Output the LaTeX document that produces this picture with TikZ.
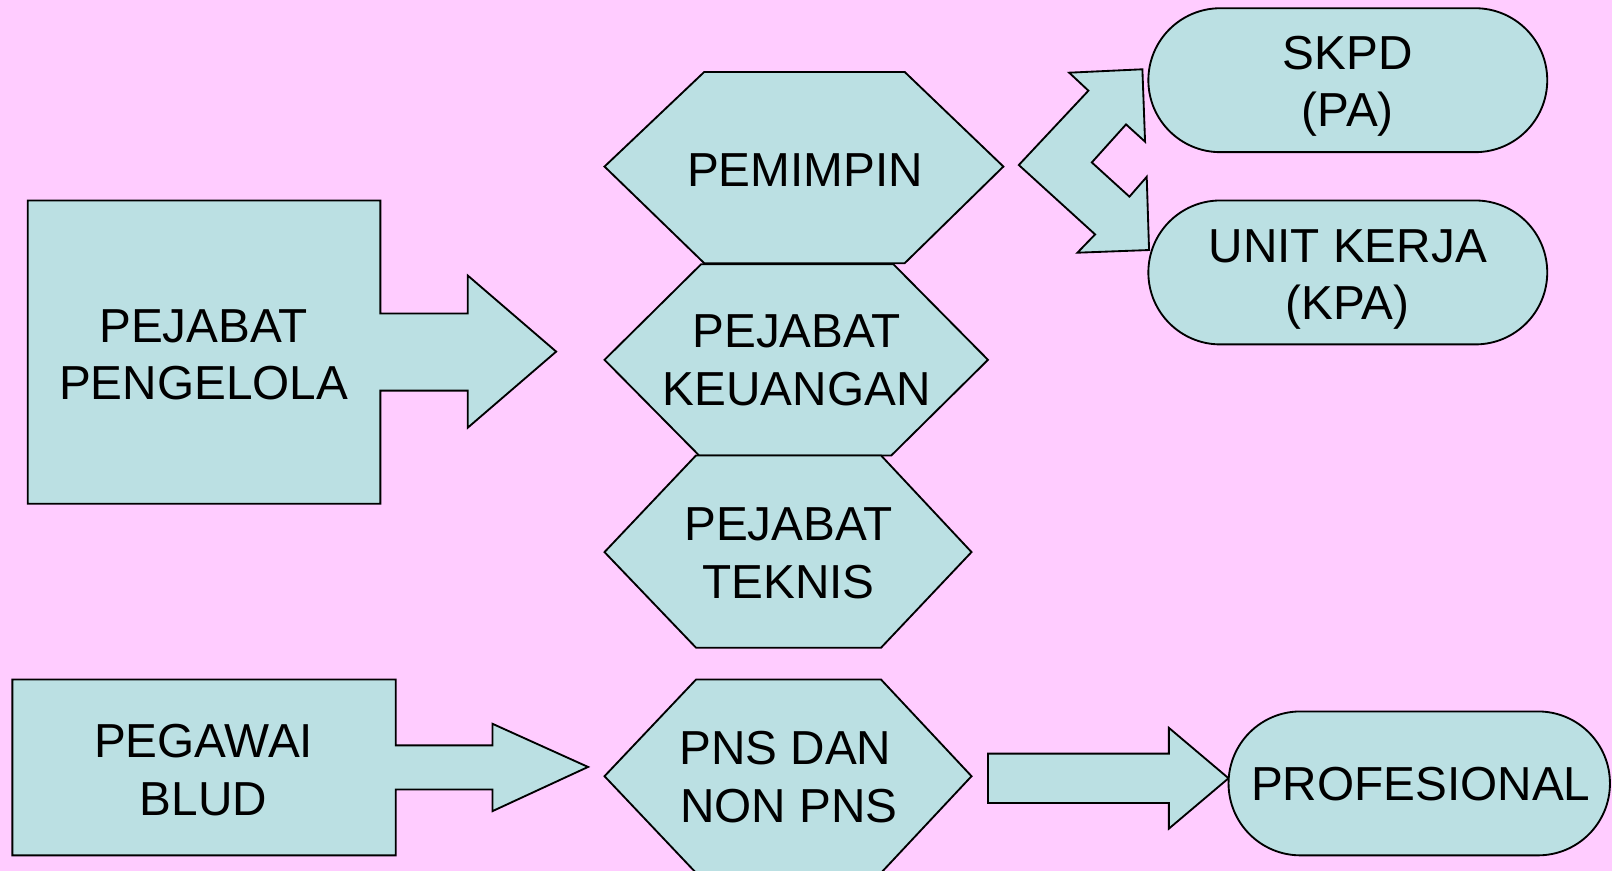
\documentclass[tikz,border=0pt]{standalone}
\usepackage{fontspec}
\setmainfont{Liberation Sans}
\definecolor{bgpink}{RGB}{255,204,255}
\definecolor{boxteal}{RGB}{187,224,227}
\begin{document}
\begin{tikzpicture}[x=0.5pt,y=-0.5pt,
  blockshape/.style={draw=black, line width=0.9pt, fill=boxteal, line join=miter},
  lbl/.style={align=center, font=\fontsize{23.2}{28}\selectfont, inner sep=0pt}]
\useasboundingbox (0,0) rectangle (1568,847);
\fill[bgpink] (0,0) rectangle (1568,847);
% Pejabat Pengelola box with arrow
\draw[blockshape] (27,195) -- (370,195) -- (370,305) -- (455,305) -- (455,268) -- (541,342) -- (455,416) -- (455,380) -- (370,380) -- (370,490) -- (27,490) -- cycle;
% hexagons
\draw[blockshape] (588,162) -- (685,70) -- (880,70) -- (976,162) -- (880,256) -- (685,256) -- cycle;
\draw[blockshape] (588,350) -- (682,257) -- (869,257) -- (961,350) -- (867,443) -- (680,443) -- cycle;
\draw[blockshape] (588,537) -- (677,443) -- (857,443) -- (945,537) -- (857,630) -- (677,630) -- cycle;
\draw[blockshape] (588,755) -- (677,661) -- (857,661) -- (945,755) -- (857,849) -- (677,849) -- cycle;
% Pegawai BLUD box with arrow
\draw[blockshape] (12,661) -- (385,661) -- (385,725) -- (479,725) -- (479,704) -- (572,746) -- (479,789) -- (479,768) -- (385,768) -- (385,832) -- (12,832) -- cycle;
% bottom right arrow
\draw[blockshape] (961,733) -- (1137,733) -- (1137,708) -- (1195,757) -- (1137,806) -- (1137,781) -- (961,781) -- cycle;
% bent double arrow
\draw[blockshape] (991,160.5) -- (1058.7,88.2) -- (1040,70.7) -- (1111.2,67.4) -- (1113.8,137.8) -- (1095.3,121) -- (1062,158) -- (1098.6,191.3) -- (1115.4,172) -- (1117.7,243.2) -- (1048,245.8) -- (1065.2,228) -- cycle;
% stadiums
\draw[blockshape, rounded corners=35pt] (1117,8) rectangle (1505,148);
\draw[blockshape, rounded corners=35pt] (1117,195) rectangle (1505,335);
\draw[blockshape, rounded corners=35pt] (1195,692) rectangle (1566,832);
% labels
\node[lbl] (pengelola) at (198,345) {PEJABAT\\PENGELOLA};
\node[lbl] (pemimpin) at (783,165) {PEMIMPIN};
\node[lbl] (keuangan) at (775,350.5) {PEJABAT\\KEUANGAN};
\node[lbl] (teknis) at (767,538) {PEJABAT\\TEKNIS};
\node[lbl] (pns) at (764,756) {PNS DAN\hspace{3.5pt}\\\hspace{3.5pt}NON PNS};
\node[lbl] (pegawai) at (198,749) {PEGAWAI\\BLUD};
\node[lbl] (skpd) at (1311,84) {SKPD\\(PA)};
\node[lbl] (unit) at (1311,272) {UNIT KERJA\\(KPA)};
\node[lbl] (prof) at (1382,763) {PROFESIONAL};
\end{tikzpicture}
\end{document}
